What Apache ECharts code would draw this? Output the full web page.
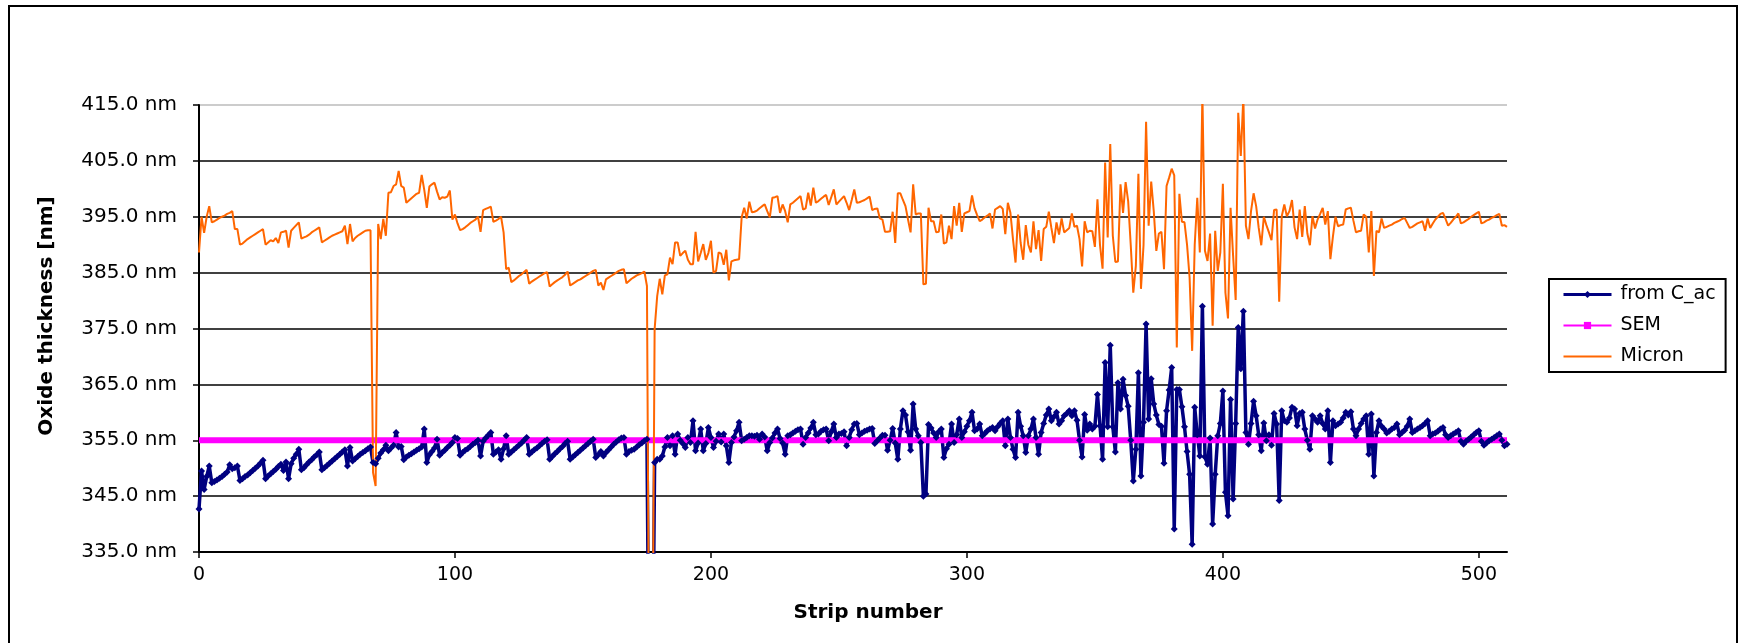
<!DOCTYPE html>
<html>
<head>
<meta charset="utf-8">
<script src="https://cdn.jsdelivr.net/npm/echarts@6/dist/echarts.min.js"></script>
<style>
  html, body { margin: 0; padding: 0; background: #fff; }
  #chart { width: 1739px; height: 643px; }
</style>
</head>
<body>
<div id="chart"></div>
<script>
// strip numbers on the x axis
var strips = [];
for (var i = 0; i < 512; i++) strips.push(i);

var yTicks = [335, 345, 355, 365, 375, 385, 395, 405, 415];

// SEM reference value (one number for the whole sensor)
var semValue = 355.0;

// oxide thickness from C_ac, one value per strip (300 = below the plotted range)
var fromCac = [
  342.7, 349.5, 346.2, 348.5, 350.4, 347.4, 347.6, 347.9, 348.2, 348.5, 348.9, 349.3, 350.6, 349.9, 350.1, 350.4,
  347.8, 348.1, 348.5, 348.8, 349.2, 349.6, 350.0, 350.4, 350.9, 351.4, 348.1, 348.6, 349.0, 349.4, 349.8, 350.3,
  350.7, 349.6, 351.1, 348.1, 350.8, 351.8, 352.5, 353.4, 349.7, 350.1, 350.6, 351.1, 351.5, 352.0, 352.4, 352.9,
  349.7, 350.1, 350.5, 350.9, 351.3, 351.7, 352.1, 352.5, 352.9, 353.3, 350.4, 353.7, 351.3, 351.7, 352.1, 352.5,
  352.8, 353.1, 353.5, 353.8, 351.0, 350.8, 351.8, 352.7, 353.3, 354.1, 353.1, 353.6, 354.1, 356.4, 353.8, 353.9,
  351.5, 352.0, 352.3, 352.6, 352.9, 353.2, 353.5, 353.8, 357.0, 351.0, 352.4, 353.0, 353.6, 355.2, 352.3, 352.8,
  353.2, 353.7, 354.1, 354.6, 355.5, 355.3, 352.3, 352.8, 353.2, 353.5, 353.9, 354.3, 354.6, 355.0, 352.2, 354.8,
  355.4, 355.9, 356.4, 352.5, 352.9, 353.3, 351.6, 353.5, 355.8, 352.5, 352.9, 353.3, 353.7, 354.1, 354.5, 355.0,
  355.5, 352.5, 352.9, 353.3, 353.6, 354.0, 354.4, 354.8, 355.1, 351.6, 352.1, 352.6, 353.0, 353.5, 353.9, 354.4,
  354.8, 351.6, 352.0, 352.4, 352.8, 353.2, 353.6, 354.0, 354.4, 354.8, 355.2, 351.9, 352.4, 353.0, 352.2, 352.8,
  353.3, 353.8, 354.3, 354.7, 355.1, 355.4, 355.5, 352.5, 353.0, 353.2, 353.4, 353.8, 354.2, 354.5, 354.9, 355.2,
  300.0, 300.0, 351.0, 351.6, 351.6, 352.2, 353.8, 355.5, 354.0, 355.8, 352.5, 356.1, 355.0, 354.4, 353.7, 355.5,
  354.6, 358.5, 353.1, 354.5, 357.0, 353.1, 354.4, 357.3, 355.5, 353.7, 354.8, 356.1, 354.7, 356.1, 354.0, 351.0,
  354.6, 355.6, 356.7, 358.2, 354.9, 355.2, 355.5, 355.8, 355.8, 355.7, 355.9, 355.2, 356.1, 355.6, 353.1, 354.6,
  355.4, 356.3, 357.0, 355.3, 354.5, 352.5, 355.8, 356.0, 356.3, 356.6, 356.9, 357.0, 354.3, 355.5, 356.3, 357.2,
  358.2, 356.0, 356.1, 356.6, 356.9, 357.0, 354.9, 356.5, 357.9, 355.5, 356.1, 356.2, 356.5, 354.0, 355.5, 356.9,
  357.9, 358.0, 356.0, 356.3, 356.6, 356.8, 357.0, 357.1, 354.4, 354.9, 355.4, 355.9, 355.9, 353.2, 355.0, 357.1,
  354.5, 351.6, 357.0, 360.3, 359.5, 356.5, 353.2, 361.5, 357.0, 355.8, 354.6, 345.0, 345.4, 357.8, 357.2, 356.3,
  355.5, 356.5, 357.0, 351.9, 353.5, 354.3, 357.9, 354.6, 356.0, 358.8, 355.5, 356.5, 357.5, 358.5, 360.0, 356.7,
  357.0, 357.9, 355.8, 356.2, 356.7, 357.0, 357.3, 356.7, 357.4, 358.0, 358.5, 354.0, 358.8, 355.5, 353.4, 351.9,
  360.0, 357.5, 355.8, 352.8, 355.8, 357.0, 358.8, 355.5, 352.5, 356.4, 358.0, 359.5, 360.6, 358.5, 359.2, 360.0,
  357.9, 358.5, 359.4, 359.8, 360.3, 359.4, 360.3, 358.6, 355.0, 352.0, 359.6, 356.8, 357.9, 357.0, 357.5, 363.2,
  357.6, 351.6, 368.9, 357.4, 372.0, 357.4, 352.9, 365.3, 360.6, 365.9, 363.0, 361.1, 355.0, 347.7, 353.4, 367.1,
  348.6, 358.2, 375.8, 358.8, 366.0, 361.5, 359.5, 357.8, 357.5, 350.9, 360.3, 364.0, 368.0, 339.1, 364.1, 364.1,
  361.0, 357.4, 353.0, 348.9, 336.4, 360.9, 356.0, 352.2, 379.0, 352.0, 350.7, 355.4, 340.0, 348.9, 355.8, 358.0,
  363.8, 345.7, 341.5, 362.3, 344.5, 358.0, 375.2, 367.8, 378.1, 356.4, 354.3, 358.0, 362.0, 359.4, 356.0, 353.1,
  358.1, 354.9, 356.0, 354.1, 359.8, 357.9, 344.2, 360.3, 358.5, 358.2, 359.0, 360.9, 360.6, 357.6, 359.8, 360.0,
  357.0, 355.0, 353.4, 359.4, 358.8, 358.2, 359.4, 358.0, 357.0, 360.3, 351.0, 358.5, 357.6, 357.9, 358.2, 359.0,
  360.0, 359.5, 360.1, 357.0, 355.8, 357.0, 358.0, 358.8, 359.4, 352.5, 359.7, 348.6, 356.4, 358.5, 357.5, 357.0,
  356.3, 356.6, 357.0, 357.3, 357.9, 356.0, 356.4, 356.8, 357.5, 358.8, 356.4, 356.7, 357.0, 357.3, 357.6, 358.0,
  358.5, 355.8, 356.1, 356.3, 356.6, 357.0, 357.3, 356.0, 355.5, 355.8, 356.1, 356.4, 356.7, 354.8, 354.3, 354.8,
  355.2, 355.6, 356.0, 356.4, 356.7, 354.8, 354.1, 354.5, 354.9, 355.2, 355.5, 355.8, 356.1, 355.0, 354.0, 354.3
];

// oxide thickness from Micron, one value per strip (300 = below, 416+ = above the plotted range)
var micron = [
  388.6, 395.0, 392.1, 395.0, 396.9, 394.0, 394.2, 394.5, 394.8, 395.0, 395.2, 395.5, 395.7, 396.0, 392.8, 392.8,
  390.0, 390.2, 390.6, 391.0, 391.3, 391.6, 391.9, 392.2, 392.5, 392.8, 390.0, 390.4, 390.8, 390.6, 391.2, 390.3,
  392.2, 392.3, 392.5, 389.5, 392.5, 393.0, 393.5, 394.0, 391.1, 391.3, 391.5, 391.8, 392.2, 392.5, 392.8, 393.1,
  390.4, 390.7, 391.0, 391.3, 391.6, 391.8, 392.0, 392.2, 392.4, 393.4, 390.1, 393.7, 390.6, 391.2, 391.6, 391.9,
  392.2, 392.5, 392.6, 392.6, 349.2, 346.8, 393.7, 391.0, 394.6, 391.6, 399.3, 399.4, 400.5, 400.8, 403.2, 400.5,
  400.2, 397.5, 397.9, 398.3, 398.7, 399.1, 399.3, 402.5, 399.8, 396.6, 400.4, 400.8, 401.1, 399.5, 398.1, 398.5,
  398.4, 398.6, 399.7, 394.5, 395.4, 393.8, 392.6, 392.8, 393.1, 393.5, 393.9, 394.2, 394.5, 395.0, 392.3, 396.2,
  396.4, 396.6, 396.8, 394.1, 394.3, 394.6, 395.0, 392.2, 385.6, 385.9, 383.3, 383.6, 384.0, 384.4, 384.7, 385.1,
  385.5, 383.0, 383.4, 383.7, 384.0, 384.3, 384.6, 384.9, 385.1, 382.5, 382.9, 383.3, 383.6, 383.9, 384.2, 384.6,
  385.2, 382.7, 383.0, 383.3, 383.6, 383.8, 384.1, 384.4, 384.7, 385.0, 385.3, 385.5, 382.7, 383.2, 381.9, 383.8,
  384.1, 384.4, 384.7, 385.0, 385.3, 385.5, 385.6, 383.1, 383.5, 383.9, 384.2, 384.5, 384.7, 384.9, 385.2, 382.6,
  300.0, 300.0, 374.9, 380.8, 383.9, 381.1, 384.5, 384.7, 387.7, 386.5, 390.4, 390.4, 388.0, 388.5, 388.9, 387.3,
  386.5, 386.5, 392.3, 387.0, 388.5, 390.1, 387.3, 388.5, 390.7, 385.0, 385.3, 388.6, 388.4, 386.4, 389.1, 383.6,
  387.0, 387.2, 387.3, 387.4, 394.9, 396.6, 394.7, 397.7, 395.8, 395.9, 396.1, 396.5, 396.9, 397.2, 396.0, 394.9,
  398.4, 398.5, 398.7, 395.7, 397.2, 396.0, 394.0, 397.2, 397.5, 397.9, 398.3, 398.7, 396.3, 396.5, 399.3, 397.0,
  400.2, 397.5, 397.8, 398.2, 398.6, 398.9, 397.1, 398.5, 399.9, 397.2, 397.7, 398.2, 398.7, 397.5, 396.2, 398.0,
  399.9, 397.5, 397.6, 397.8, 398.0, 398.3, 398.6, 396.2, 396.4, 396.5, 394.7, 394.5, 392.3, 392.3, 392.4, 395.9,
  390.3, 399.2, 399.2, 398.0, 396.9, 394.5, 392.2, 400.8, 395.4, 395.6, 395.6, 382.9, 383.0, 396.6, 394.2, 394.2,
  392.2, 392.3, 395.4, 390.2, 390.4, 393.4, 391.0, 396.9, 393.4, 397.5, 392.3, 395.6, 395.8, 396.0, 398.8, 396.5,
  395.3, 394.2, 394.5, 394.9, 395.2, 395.6, 392.9, 396.3, 396.6, 396.9, 396.4, 391.9, 397.5, 395.7, 391.0, 386.8,
  395.4, 390.3, 387.3, 393.5, 390.0, 388.6, 394.2, 389.2, 392.6, 387.1, 392.8, 393.2, 395.9, 393.0, 390.3, 394.0,
  391.8, 394.7, 392.2, 392.6, 393.0, 395.6, 393.2, 393.4, 391.0, 386.1, 394.2, 392.2, 392.5, 392.4, 389.6, 398.1,
  389.9, 385.7, 404.7, 391.3, 408.0, 391.6, 386.9, 387.0, 400.8, 395.7, 401.2, 397.8, 390.0, 381.4, 386.2, 402.7,
  382.1, 389.9, 412.0, 393.4, 401.3, 396.0, 388.9, 392.0, 392.3, 385.6, 400.5, 402.0, 403.6, 402.4, 371.6, 399.1,
  394.1, 394.0, 390.0, 384.1, 371.0, 390.0, 398.4, 388.6, 417.0, 388.9, 387.1, 392.0, 375.5, 392.5, 385.3, 388.6,
  400.9, 381.4, 376.8, 396.6, 388.0, 380.1, 413.6, 405.9, 416.5, 393.4, 391.0, 396.0, 399.2, 396.9, 393.0, 389.9,
  395.0, 393.5, 392.2, 390.8, 396.2, 396.3, 379.8, 395.1, 397.2, 395.1, 396.0, 398.0, 393.1, 391.0, 396.3, 391.4,
  396.9, 392.0, 389.9, 395.1, 392.9, 394.5, 395.5, 396.6, 393.6, 396.0, 387.4, 391.5, 395.0, 393.3, 393.5, 393.6,
  396.3, 396.5, 396.6, 394.3, 392.2, 392.4, 392.5, 395.4, 395.0, 388.6, 396.0, 384.4, 392.5, 392.2, 394.7, 393.0,
  393.2, 393.4, 393.6, 393.9, 394.1, 394.3, 394.6, 394.8, 393.9, 393.0, 393.2, 393.5, 393.8, 394.0, 394.2, 392.5,
  394.7, 393.0, 393.8, 394.5, 395.0, 395.5, 395.7, 394.6, 393.4, 393.9, 394.5, 395.0, 395.6, 393.8, 394.0, 394.3,
  394.6, 395.0, 395.3, 395.6, 395.9, 393.8, 394.0, 394.3, 394.5, 394.8, 395.0, 395.3, 395.5, 393.4, 393.5, 393.2
];

var semLine = strips.map(function () { return semValue; });

var font = "'DejaVu Sans', 'Liberation Sans', Arial, sans-serif";
var every100 = function (idx) { return idx % 100 === 0; };

var myChart = echarts.init(document.getElementById('chart'));
var option = {
  animation: false,
  backgroundColor: '#fff',
  textStyle: { fontFamily: font },
  grid: { left: 199, right: 232, top: 105, bottom: 91, containLabel: false },
  legend: {
    orient: 'vertical',
    left: 1549,
    top: 279,
    padding: [6, 10, 6, 13],
    itemGap: 12,
    itemWidth: 48,
    itemHeight: 9,
    borderColor: '#000',
    borderWidth: 2,
    borderRadius: 0,
    backgroundColor: '#fff',
    textStyle: { fontSize: 19, color: '#000', fontFamily: font, padding: [0, 0, 0, 4] },
    data: [
      { name: 'from C_ac', itemStyle: { color: '#000080' }, lineStyle: { width: 3 } },
      { name: 'SEM', itemStyle: { color: '#FF00FF' }, lineStyle: { width: 2 } },
      { name: 'Micron', itemStyle: { color: 'rgba(0,0,0,0)', borderWidth: 0 }, lineStyle: { width: 2 } }
    ]
  },
  xAxis: {
    type: 'category',
    data: strips,
    boundaryGap: false,
    axisLine: { lineStyle: { color: '#000', width: 2 } },
    axisTick: { interval: every100, length: 6, lineStyle: { color: '#000', width: 1.5 } },
    axisLabel: { interval: every100, margin: 14, fontSize: 19, color: '#000', fontFamily: font },
    splitLine: { show: false }
  },
  yAxis: {
    type: 'value',
    min: yTicks[0],
    max: yTicks[yTicks.length - 1],
    interval: 10,
    axisLine: { show: true, lineStyle: { color: '#000', width: 2 } },
    axisTick: { show: true, length: 6, lineStyle: { color: '#000', width: 1.5 } },
    axisLabel: {
      margin: 22, fontSize: 20, color: '#000', fontFamily: font,
      formatter: function (v) { return v.toFixed(1) + ' nm'; }
    },
    splitLine: {
      show: true,
      lineStyle: { color: ['#000', '#000', '#000', '#000', '#000', '#000', '#000', '#000', '#bbb'], width: 1.5 }
    }
  },
  graphic: [
    {
      type: 'rect', silent: true, z: -1,
      shape: { x: 9, y: 6, width: 1728, height: 660 },
      style: { fill: null, stroke: '#000', lineWidth: 2 }
    },
    {
      type: 'text', x: 47, y: 316, rotation: Math.PI / 2,
      style: { text: 'Oxide thickness [nm]', font: 'bold 20px ' + font, fill: '#000', align: 'center', verticalAlign: 'middle' }
    },
    {
      type: 'text', x: 868, y: 613,
      style: { text: 'Strip number', font: 'bold 20px ' + font, fill: '#000', align: 'center', verticalAlign: 'middle' }
    }
  ],
  series: [
    {
      name: 'from C_ac',
      type: 'line',
      data: fromCac,
      symbol: 'diamond',
      symbolSize: 7,
      showAllSymbol: true,
      color: '#000080',
      lineStyle: { color: '#000080', width: 3.5 },
      itemStyle: { color: '#000080' },
      clip: true
    },
    {
      name: 'SEM',
      type: 'line',
      data: semLine,
      symbol: 'rect',
      symbolSize: 8,
      showSymbol: false,
      color: '#FF00FF',
      lineStyle: { color: '#FF00FF', width: 6 },
      itemStyle: { color: '#FF00FF' }
    },
    {
      name: 'Micron',
      type: 'line',
      data: micron,
      symbol: 'none',
      color: '#FF6600',
      lineStyle: { color: '#FF6600', width: 2 },
      clip: true
    }
  ]
};
myChart.setOption(option);
</script>
</body>
</html>
